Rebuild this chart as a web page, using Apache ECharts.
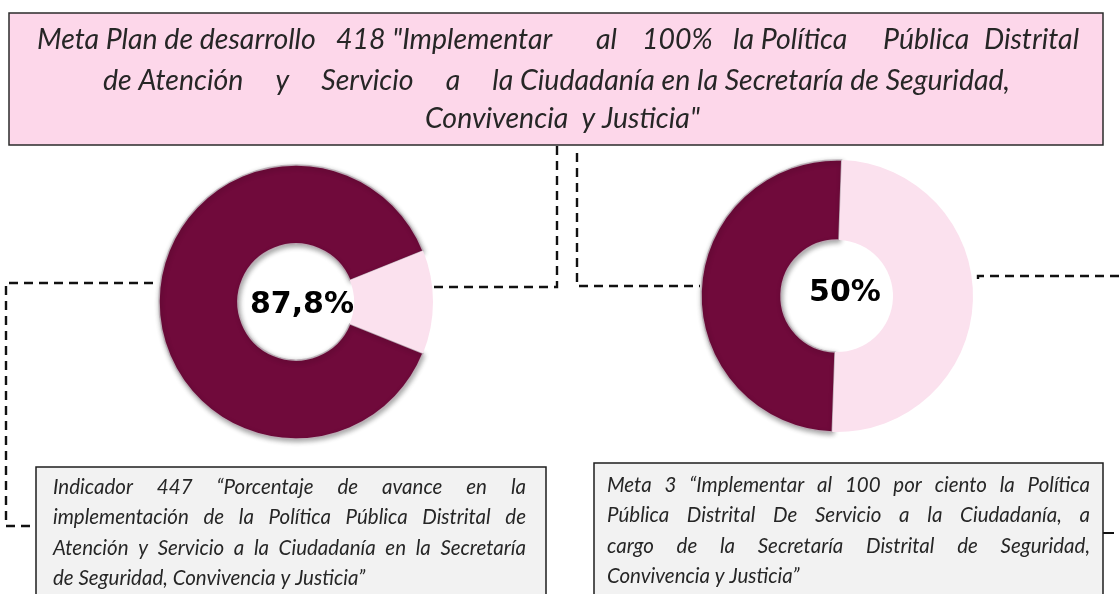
<!DOCTYPE html>
<html>
<head>
<meta charset="utf-8">
<script src="https://cdn.jsdelivr.net/npm/echarts@6/dist/echarts.min.js"></script>
<style>
  html, body { margin: 0; padding: 0; background: #ffffff; }
  #chart { width: 1119px; height: 594px; }
</style>
</head>
<body>
<div id="chart"></div>
<script>
// ---------------- DATA ----------------
const categories = ['Avance', 'Pendiente'];
const indicador447 = [87.8, 12.2];
const meta3 = [50, 50];

const titleLine1 = ['Meta Plan de desarrollo', '418 "Implementar', 'al', '100%', 'la Política', 'Pública', 'Distrital'];
const titleLine2 = ['de Atención', 'y', 'Servicio', 'a', 'la Ciudadanía en la Secretaría de Seguridad,'];
const titleLine3 = 'Convivencia  y Justicia"';
const leftBoxLines = [
  'Indicador 447 “Porcentaje de avance en la',
  'implementación de la Política Pública Distrital de',
  'Atención y Servicio a la Ciudadanía en la Secretaría',
  'de Seguridad, Convivencia y Justicia”'
];
const rightBoxLines = [
  'Meta 3 “Implementar al 100 por ciento la Política',
  'Pública Distrital De Servicio a la Ciudadanía, a',
  'cargo de la Secretaría Distrital de Seguridad,',
  'Convivencia y Justicia”'
];

// ---------------- LAYOUT ----------------
const title1X = [37, 336, 596, 642, 733, 883, 984];
const titleY = [40, 81, 119];
const TITLE_SIZE = 28.5;
const BOX_SIZE = 20.5;
const FONT = 'Lato, "Open Sans", sans-serif';
const LABEL_FONT = '"DejaVu Sans", Verdana, sans-serif';
const MAROON = '#700a3b';
const PINK = '#fbe1ee';

const chart = echarts.init(document.getElementById('chart'), null, { renderer: 'canvas' });

const ctx = document.createElement('canvas').getContext('2d');
function measure(t, size) {
  ctx.font = 'italic normal ' + size + 'px ' + FONT;
  return ctx.measureText(t).width;
}

function textEl(t, x, y, size, opts) {
  opts = opts || {};
  return {
    type: 'text', x: x, y: y, z: 20,
    style: {
      text: t, fill: opts.fill || '#262626',
      fontSize: size, fontFamily: opts.family || FONT,
      fontStyle: opts.style || 'italic', fontWeight: opts.weight || 'normal',
      align: opts.align || 'left', verticalAlign: 'middle'
    }
  };
}

function spread(words, x0, x1, y, size) {
  const widths = words.map(function (w) { return measure(w, size); });
  const total = widths.reduce(function (a, b) { return a + b; }, 0);
  const gap = (x1 - x0 - total) / (words.length - 1);
  const out = [];
  let x = x0;
  words.forEach(function (w, j) {
    out.push(textEl(w, x, y, size));
    x += widths[j] + gap;
  });
  return out;
}

function justified(lines, x0, x1, y0, lh, size) {
  let out = [];
  lines.forEach(function (line, i) {
    const y = y0 + i * lh;
    if (i === lines.length - 1) {
      out.push(textEl(line, x0, y, size));
    } else {
      out = out.concat(spread(line.split(' '), x0, x1, y, size));
    }
  });
  return out;
}

let graphics = [];
// Title box
graphics.push({ type: 'rect', z: 1, shape: { x: 9, y: 13, width: 1094, height: 132 },
  style: { fill: '#fdd7ea', stroke: '#2b2b2b', lineWidth: 1.5 } });
titleLine1.forEach(function (s, j) {
  graphics.push(textEl(s, title1X[j], titleY[0], TITLE_SIZE));
});
graphics = graphics.concat(spread(titleLine2, 103, 1010, titleY[1], TITLE_SIZE));
graphics.push(textEl(titleLine3, 425, titleY[2], TITLE_SIZE));

// Bottom boxes
graphics.push({ type: 'rect', z: 1, shape: { x: 36, y: 467, width: 510, height: 150 },
  style: { fill: '#f2f2f2', stroke: '#1e1e1e', lineWidth: 1.5 } });
graphics.push({ type: 'rect', z: 1, shape: { x: 594, y: 463, width: 509, height: 150 },
  style: { fill: '#f2f2f2', stroke: '#1e1e1e', lineWidth: 1.5 } });
graphics = graphics.concat(justified(leftBoxLines, 53, 526, 487, 30.5, BOX_SIZE));
graphics = graphics.concat(justified(rightBoxLines, 607, 1090, 485, 30.5, BOX_SIZE));

// Connectors
const dash = { stroke: '#111', lineWidth: 2.4, lineDash: [9, 6], fill: null };
function pl(points, style) {
  return { type: 'polyline', z: 0, shape: { points: points }, style: Object.assign({}, style) };
}
graphics.push(pl([[557, 146], [557, 287], [434, 287]], dash));
graphics.push(pl([[577, 153], [577, 286], [700, 286]], dash));
graphics.push(pl([[978, 279], [978, 276], [1119, 276]], dash));
graphics.push(pl([[153, 283], [6, 283], [6, 526], [36, 526]], dash));
graphics.push(pl([[1103, 533], [1114, 533]], { stroke: '#111', lineWidth: 2, fill: null }));

// Center labels derived from data
function pct(v) { return String(v).replace('.', ',') + '%'; }
graphics.push(textEl(pct(indicador447[0]), 302, 305, 30, { family: LABEL_FONT, style: 'normal', weight: 'bold', fill: '#000', align: 'center' }));
graphics.push(textEl(pct(meta3[0]), 845, 293, 30, { family: LABEL_FONT, style: 'normal', weight: 'bold', fill: '#000', align: 'center' }));

function pieData(vals) {
  return vals.map(function (v, i) {
    return {
      name: categories[i], value: v,
      itemStyle: i === 0 ? {
        color: MAROON, borderColor: 'rgba(190,180,186,0.9)', borderWidth: 1.5,
        shadowColor: 'rgba(0,0,0,0.35)', shadowBlur: 5, shadowOffsetX: 1, shadowOffsetY: 2
      } : { color: PINK, borderWidth: 0 }
    };
  });
}

const option = {
  backgroundColor: '#ffffff',
  animation: false,
  series: [
    {
      type: 'pie', center: [296, 302], radius: [58, 137],
      startAngle: -22, clockwise: true, z: 5,
      label: { show: false }, labelLine: { show: false },
      emphasis: { disabled: true }, silent: true,
      data: pieData(indicador447)
    },
    {
      type: 'pie', center: [837, 296], radius: [56, 136],
      startAngle: -92, clockwise: true, z: 5,
      label: { show: false }, labelLine: { show: false },
      emphasis: { disabled: true }, silent: true,
      data: pieData(meta3)
    }
  ],
  graphic: { elements: graphics }
};
chart.setOption(option);
</script>
</body>
</html>
